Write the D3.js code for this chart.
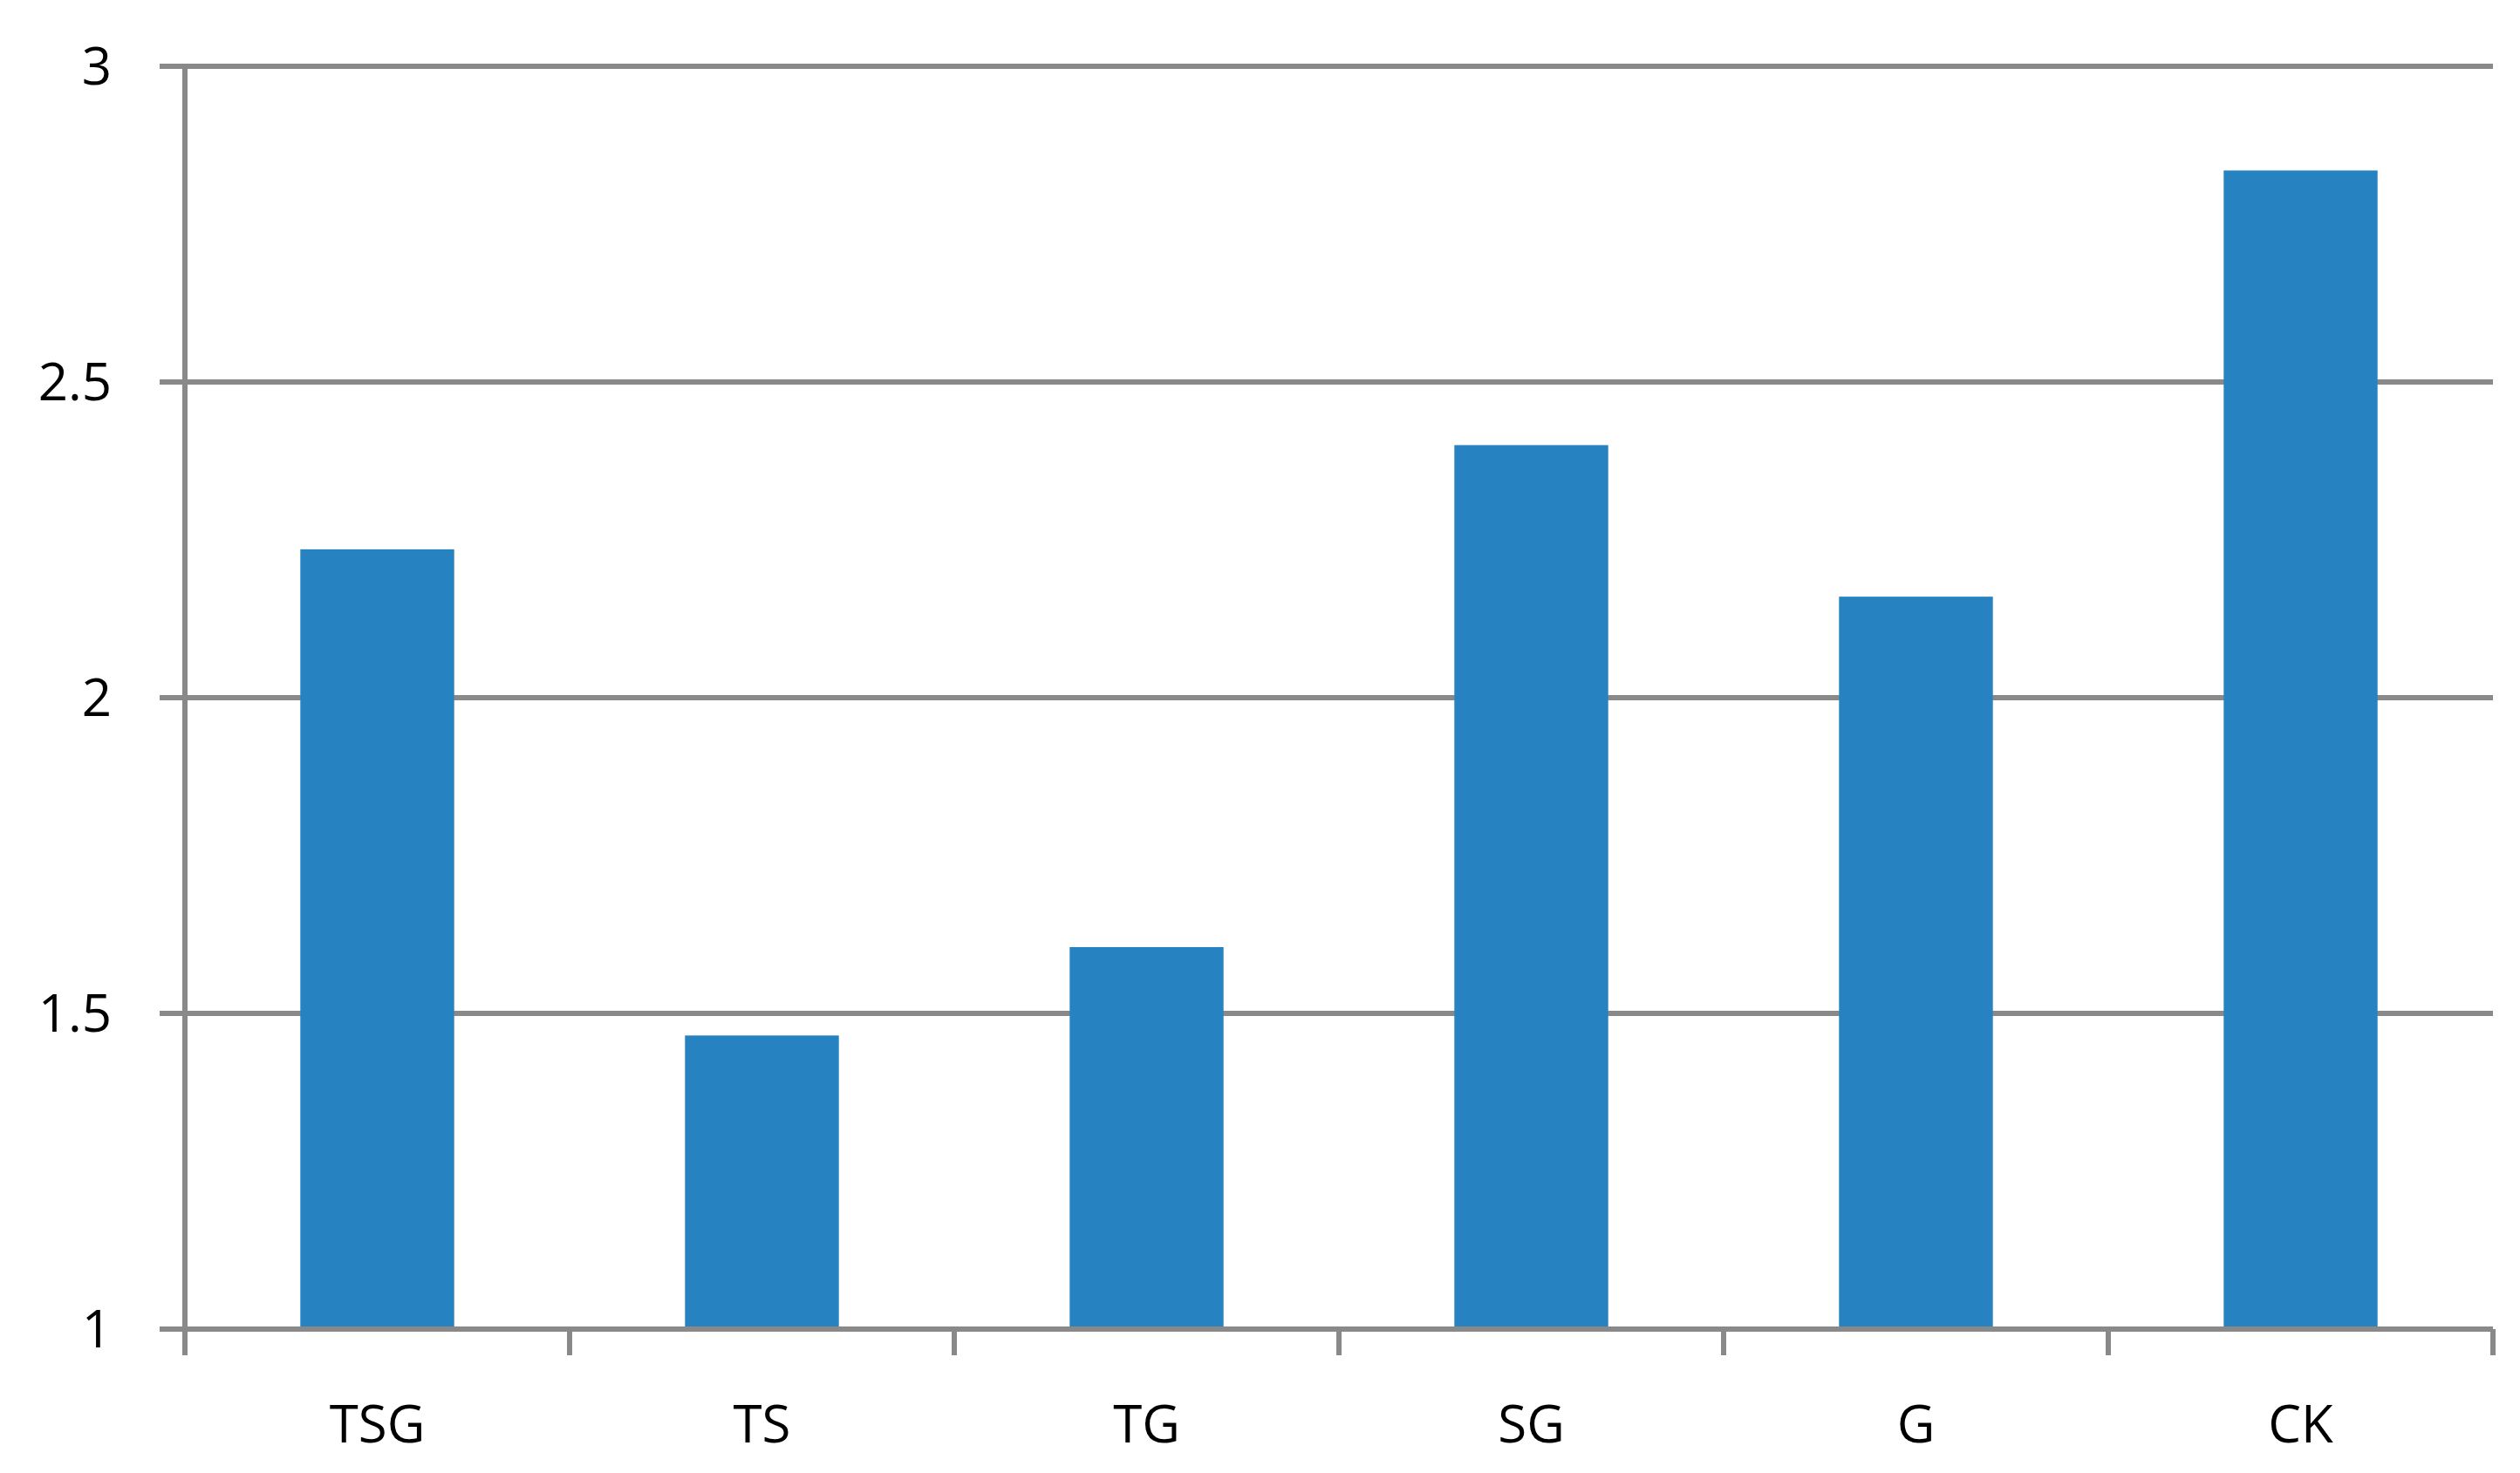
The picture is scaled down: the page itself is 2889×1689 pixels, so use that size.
<!DOCTYPE html>
<html><head><meta charset="utf-8">
<script src="https://cdn.jsdelivr.net/npm/d3@7"></script>
<style>body{margin:0;background:#fff}text{font-family:"Open Sans",sans-serif}</style>
</head><body>
<script>
var categories = ["TSG", "TS", "TG", "SG", "G", "CK"];
var values = [2.235, 1.465, 1.605, 2.40, 2.16, 2.835];
var yTicks = [1, 1.5, 2, 2.5, 3];

var width = 2889, height = 1689;
var mLeft = 212, mRight = 2858, mTop = 76, mBottom = 1524;

var svg = d3.select("body").append("svg")
.attr("width", width)
.attr("height", height);

var x = d3.scaleBand().domain(categories).range([mLeft, mRight]).paddingInner(0.6).paddingOuter(0.3);
var xb = d3.scaleBand().domain(categories).range([mLeft, mRight]);
var y = d3.scaleLinear().domain([1, 3]).range([mBottom, mTop]);

// gridlines
svg.selectAll(".grid")
.data(yTicks)
.enter()
.append("line")
.attr("x1", 183)
.attr("x2", mRight)
.attr("y1", d => y(d))
.attr("y2", d => y(d))
.style("stroke", "#898989")
.style("stroke-width", 6);

svg.selectAll(".ylab")
.data(yTicks)
.enter()
.append("text")
.attr("x", 128)
.attr("y", d => y(d))
.attr("dy", "0.35em")
.attr("text-anchor", "end")
.style("font-size", "60px")
.text(d => d);

// bars
svg.selectAll(".bar")
.data(values)
.enter()
.append("rect")
.attr("x", (d, i) => x(categories[i]))
.attr("width", x.bandwidth())
.attr("y", d => y(d))
.attr("height", d => y(1) - y(d))
.style("fill", "#2682c0");

// axes lines
svg.append("line")
.attr("x1", mLeft).attr("x2", mLeft)
.attr("y1", mTop).attr("y2", mBottom + 30)
.style("stroke", "#898989").style("stroke-width", 6);
svg.append("line")
.attr("x1", mLeft).attr("x2", mRight)
.attr("y1", mBottom).attr("y2", mBottom)
.style("stroke", "#898989").style("stroke-width", 6);

var tickX = categories.map(c => xb(c)).concat([mRight]);
svg.selectAll(".xtick")
.data(tickX)
.enter()
.append("line")
.attr("x1", d => d).attr("x2", d => d)
.attr("y1", mBottom).attr("y2", mBottom + 30)
.style("stroke", "#898989").style("stroke-width", 6);

svg.selectAll(".xlab")
.data(categories)
.enter()
.append("text")
.attr("x", d => xb(d) + xb.bandwidth() / 2)
.attr("y", 1633)
.attr("dy", "0.35em")
.attr("text-anchor", "middle")
.style("font-size", "60px")
.text(d => d);
</script>
</body></html>
